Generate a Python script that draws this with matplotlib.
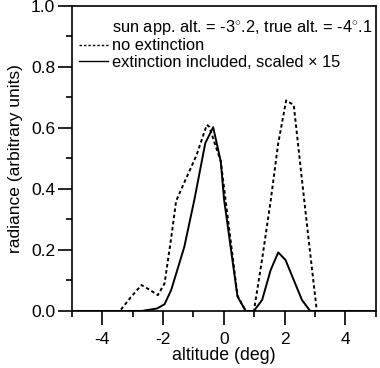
import matplotlib
matplotlib.use("Agg")
import matplotlib.pyplot as plt
from matplotlib.lines import Line2D
from matplotlib.ticker import MultipleLocator

plt.rcParams['font.family'] = ['Liberation Sans', 'DejaVu Sans']
plt.rcParams['mathtext.fontset'] = 'custom'
plt.rcParams['mathtext.rm'] = 'Liberation Sans'

# no extinction (dashed)
x_noext = [-5.0, -3.42, -3.06, -2.71, -2.45, -2.17, -1.95, -1.73, -1.57, -1.35,
           -0.9, -0.56, -0.48, -0.1, 0.45, 0.72, 0.99, 1.26, 1.54, 1.79,
           2.05, 2.3, 2.57, 2.84, 3.06, 5.0]
y_noext = [0.0, 0.0, 0.045, 0.085, 0.07, 0.052, 0.09, 0.24, 0.36, 0.41,
           0.51, 0.61, 0.604, 0.49, 0.05, 0.0, 0.0, 0.17, 0.36, 0.55,
           0.69, 0.675, 0.43, 0.19, 0.0, 0.0]

# extinction included, scaled x15 (solid)
x_ext = [-5.0, -2.7, -2.2, -1.95, -1.73, -1.3, -0.97, -0.61, -0.35, -0.1,
         0.01, 0.45, 0.72, 0.99, 1.26, 1.54, 1.79, 2.03, 2.57, 2.84, 5.0]
y_ext = [0.0, 0.0, 0.008, 0.022, 0.069, 0.21, 0.364, 0.55, 0.602, 0.49,
         0.364, 0.047, 0.0, 0.0, 0.036, 0.134, 0.192, 0.167, 0.036, 0.0, 0.0]

xticks = [-4, -2, 0, 2, 4]
yticks = [0.0, 0.2, 0.4, 0.6, 0.8, 1.0]

DASH = (0, (1.8, 1.4))

fig = plt.figure(figsize=(3.8, 3.68), dpi=100)
ax = fig.add_axes([0.189, 0.155, 0.8, 0.829])

ax.plot(x_noext, y_noext, color='black', lw=1.4, linestyle=DASH)
ax.plot(x_ext, y_ext, color='black', lw=1.4)

ax.set_xlim(-5, 5)
ax.set_ylim(0, 1.0)
ax.set_xticks(xticks)
ax.set_xticklabels([f"{t:d}" for t in xticks])
ax.set_yticks(yticks)
ax.set_yticklabels([f"{t:.1f}" for t in yticks])
ax.xaxis.set_minor_locator(MultipleLocator(1))
ax.yaxis.set_minor_locator(MultipleLocator(0.1))
ax.tick_params(which='major', direction='out', length=10, width=1.2,
               labelsize=12.5, top=False, right=False)
ax.tick_params(which='minor', direction='out', length=4.5, width=1.2,
               top=False, right=False)
ax.tick_params(axis='x', pad=5)
ax.tick_params(axis='y', pad=2)
for s in ax.spines.values():
    s.set_linewidth(1.2)

ax.set_xlabel('altitude (deg)', fontsize=12.8, labelpad=0.5)
ax.set_ylabel('radiance (arbitrary units)', fontsize=12.5, labelpad=6)

handles = [Line2D([], [], linestyle='none'),
           Line2D([], [], color='black', lw=1.0, linestyle=DASH),
           Line2D([], [], color='black', lw=1.0)]
labels = ['sun app. alt. = -3$^{\\circ}$.2, true alt. = -4$^{\\circ}$.1',
          'no extinction',
          'extinction included, scaled \u00d7 15']
ax.legend(handles, labels, loc='upper left', bbox_to_anchor=(-0.017, 1.0),
          frameon=False, fontsize=11.8, handlelength=1.75, handletextpad=0.25,
          labelspacing=0.08, borderaxespad=0.6, borderpad=0.15)

fig.savefig('out.png', dpi=100)
